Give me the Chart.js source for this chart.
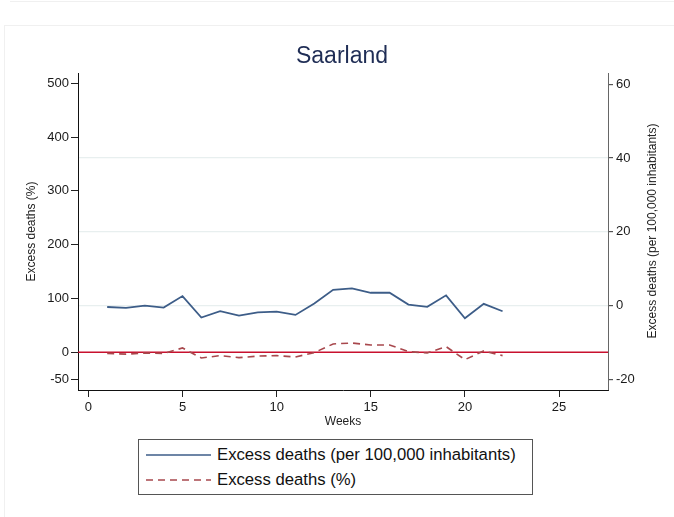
<!DOCTYPE html>
<html>
<head>
<meta charset="utf-8">
<script src="https://cdn.jsdelivr.net/npm/chart.js@4"></script>
<style>
  body { margin: 0; background: #fff; font-family: "Liberation Sans", Arial, sans-serif; }
  #wrap { position: relative; width: 674px; height: 517px; overflow: hidden; background: #fff; }
  #frameTop { position: absolute; left: 10px; top: 1px; width: 700px; border-top: 1px solid #f0f0f0; }
  #frame { position: absolute; left: 4px; top: 25px; width: 720px; height: 600px; border: 1px solid #f0f0f0; }
  canvas { position: absolute; left: 0; top: 0; }
  #title { position: absolute; left: 0; top: 42px; width: 684px; text-align: center; font-size: 23px; line-height: 26px; color: #1f2d55; }
  #rightTitle { position: absolute; left: 452px; top: 224px; width: 400px; height: 14px; line-height: 14px; text-align: center;
                font-size: 12px; color: #222; transform: rotate(-90deg); transform-origin: 200px 7px; white-space: nowrap; }
  #legend { position: absolute; left: 138px; top: 439px; width: 395px; height: 56px; box-sizing: border-box; border: 1px solid #555; background: #fff; }
  .row { position: absolute; left: 0; height: 20px; font-size: 16.7px; line-height: 20px; color: #111; }
  .row svg { position: absolute; left: 7px; top: 0; }
  .row span { position: absolute; left: 78px; top: 0; white-space: nowrap; }
</style>
</head>
<body>
<div id="wrap">
  <div id="frameTop"></div>
  <div id="frame"></div>
  <canvas id="chart" width="674" height="517"></canvas>
  <div id="title">Saarland</div>
  <div id="rightTitle">Excess deaths (per 100,000 inhabitants)</div>
  <div id="legend"></div>
</div>
<script>
// Weekly values
const weeks = [1, 2, 3, 4, 5, 6, 7, 8, 9, 10, 11, 12, 13, 14, 15, 16, 17, 18, 19, 20, 21, 22];
const perCapita = [-0.35, -0.6, 0, -0.5, 2.6, -3.2, -1.5, -2.7, -1.8, -1.6, -2.5, 0.6, 4.3, 4.7, 3.5, 3.5, 0.3, -0.3, 2.8, -3.4, 0.5, -1.5];
const percent = [-2, -3.5, -1.3, -2, 8, -10.6, -6.2, -10, -7, -6.2, -8.7, -0.6, 15.5, 17.3, 13.6, 13.6, 1.2, -1.3, 10.5, -13.6, 2.5, -6.2];

const seriesNames = ['Excess deaths (per 100,000 inhabitants)', 'Excess deaths (%)'];
const seriesColors = ['#3d5d88', '#a8484d'];

const xTicks = [0, 5, 10, 15, 20, 25];
const leftTicks = [-50, 0, 100, 200, 300, 400, 500];
const rightTicks = [-20, 0, 20, 40, 60];
const rightGrid = [0, 20, 40];

const xMin = -0.55, xMax = 27.6;
const referenceLine = 0; // on the % axis

function toPoints(values) {
    return weeks.map((w, i) => ({ x: w, y: values[i] }));
}

function setTicks(list) {
    return scale => { scale.ticks = list.map(v => ({ value: v })); };
}

// Build the legend box by hand (Stata style)
function buildLegend() {
    const legend = document.getElementById('legend');
    seriesNames.forEach((name, i) => {
        const row = document.createElement('div');
        row.className = 'row';
        row.style.top = (5 + i * 25) + 'px';
        row.style.width = '390px';
        const dash = i === 1 ? ' stroke-dasharray="7,5"' : '';
        row.innerHTML = '<svg width="66" height="20"><line x1="0" y1="10" x2="65" y2="10" stroke="' +
            seriesColors[i] + '" stroke-width="1.6"' + dash + '/></svg><span>' + name + '</span>';
        legend.appendChild(row);
    });
}

const tickFont = { family: '"Liberation Sans", Arial, sans-serif', size: 13 };
const titleFont = { family: '"Liberation Sans", Arial, sans-serif', size: 12 };

new Chart(document.getElementById('chart').getContext('2d'), {
    type: 'line',
    data: {
        datasets: [
            {
                label: 'zero',
                data: [{ x: xMin, y: referenceLine }, { x: xMax, y: referenceLine }],
                yAxisID: 'yLeft',
                borderColor: '#c8102e',
                borderWidth: 1.4,
                pointRadius: 0,
                order: 3
            },
            {
                label: seriesNames[0],
                data: toPoints(perCapita),
                yAxisID: 'yRight',
                borderColor: seriesColors[0],
                borderWidth: 1.8,
                pointRadius: 0,
                order: 1
            },
            {
                label: seriesNames[1],
                data: toPoints(percent),
                yAxisID: 'yLeft',
                borderColor: seriesColors[1],
                borderWidth: 1.6,
                borderDash: [7, 5],
                pointRadius: 0,
                order: 2
            }
        ]
    },
    options: {
        responsive: false,
        animation: false,
        devicePixelRatio: 1,
        layout: { padding: { top: 73, left: 0, right: 0, bottom: 0 } },
        plugins: { legend: { display: false }, tooltip: { enabled: false } },
        scales: {
            x: {
                type: 'linear',
                position: 'bottom',
                min: xMin,
                max: xMax,
                afterBuildTicks: setTicks(xTicks),
                afterFit: s => { s.height = 127; },
                grid: { drawOnChartArea: false, tickLength: 7, tickColor: '#222' },
                border: { color: '#111', width: 1 },
                ticks: { padding: 3, color: '#1a1a1a', font: tickFont, maxRotation: 0 },
                title: { display: true, text: 'Weeks', color: '#222', font: titleFont, padding: { top: 0, bottom: 88 } }
            },
            yLeft: {
                type: 'linear',
                position: 'left',
                min: -70.1,
                max: 519.1,
                afterBuildTicks: setTicks(leftTicks),
                afterFit: s => { s.width = 78; },
                grid: { drawOnChartArea: false, tickLength: 7, tickColor: '#222' },
                border: { color: '#111', width: 1 },
                ticks: { padding: 2, color: '#1a1a1a', font: tickFont },
                title: { display: true, text: 'Excess deaths (%)', color: '#222', font: titleFont, padding: { top: 24, bottom: 0 } }
            },
            yRight: {
                type: 'linear',
                position: 'right',
                min: -22.85,
                max: 63.06,
                afterBuildTicks: setTicks(rightTicks),
                afterFit: s => { s.width = 66; },
                grid: {
                    color: ctx => rightGrid.includes(ctx.tick && ctx.tick.value) ? '#e8efef' : 'rgba(0,0,0,0)',
                    lineWidth: 1.2,
                    tickLength: 5,
                    tickColor: '#555'
                },
                border: { color: '#666', width: 1 },
                ticks: { padding: 3, color: '#1a1a1a', font: tickFont },
                // title drawn as HTML (#rightTitle) so it reads bottom-to-top like the original
                title: { display: false }
            }
        }
    }
});

buildLegend();
</script>
</body>
</html>
